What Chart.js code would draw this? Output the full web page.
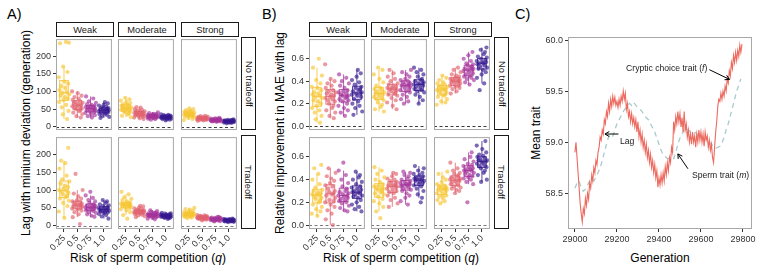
<!DOCTYPE html>
<html><head><meta charset="utf-8">
<script src="https://cdn.jsdelivr.net/npm/chart.js@4"></script>
<style>
body{margin:0;width:760px;height:274px;background:#fff;position:relative;overflow:hidden;font-family:"Liberation Sans",Arial,sans-serif;}
canvas{position:absolute}
.strip{position:absolute;box-sizing:border-box;border:1px solid #1a1a1a;background:#fff;font-size:9.3px;color:#1a1a1a;display:flex;align-items:center;justify-content:center;white-space:nowrap}
.strip.v span{transform:rotate(90deg);display:block}
.lbl{position:absolute;font-size:14.5px;line-height:15px;color:#000}
.xt{position:absolute;font-size:12px;line-height:14px;color:#000;white-space:nowrap;transform:translate(-50%,-50%)}
.yt{position:absolute;font-size:12px;line-height:14px;color:#000;white-space:nowrap;transform:translate(-50%,-50%) rotate(-90deg)}
</style></head><body>
<div class="lbl" style="left:7px;top:7px">A)</div>
<div class="lbl" style="left:262px;top:7px">B)</div>
<div class="lbl" style="left:515px;top:7px">C)</div>
<div class="yt" style="left:26px;top:133px">Lag with minium deviation (generation)</div>
<div class="yt" style="left:280px;top:133px">Relative improvement in MAE with lag</div>
<div class="yt" style="left:536px;top:133px">Mean trait</div>
<div class="xt" style="left:148px;top:258px">Risk of sperm competition (<i>q</i>)</div>
<div class="xt" style="left:401px;top:258px">Risk of sperm competition (<i>q</i>)</div>
<div class="xt" style="left:660px;top:258px">Generation</div>
<script>
// ---------- categories / labels ----------
const qLabels = ['0.25','0.5','0.75','1.0'];
const strengthLabels = ['Weak','Moderate','Strong'];
const tradeoffLabels = ['No tradeoff','Tradeoff'];
const qColors = ['#F6C431','#E0626E','#A5339A','#35198F'];
const lagTicks = [0,50,100,150,200];
const maeTicks = [0,0.2,0.4,0.6];
const genTicks = [29000,29200,29400,29600,29800];
const traitTicks = [58.5,59.0,59.5,60.0];

// ---------- A) Lag with minimum deviation (generation) ----------
const lagNoTradeoffWeak = [
 [240,236,238,170,155,140,128,122,115,110,104,98,95,92,88,84,80,76,70,62,55,45,35,22],
 [100,95,88,84,80,76,73,70,68,66,64,62,60,58,56,54,52,50,47,44,40,36,30,26],
 [86,80,72,68,64,62,60,58,56,55,54,52,51,50,48,46,45,43,41,39,36,33,30,26],
 [70,66,62,60,57,55,53,52,50,49,48,47,46,45,44,42,41,40,38,36,34,31,28,25]];
const lagNoTradeoffModerate = [
 [82,78,74,70,67,64,62,60,58,56,55,54,52,51,50,48,46,45,43,41,38,35,31,27],
 [56,54,50,48,46,44,43,42,41,40,39,38,37,36,35,34,33,32,31,30,28,26,24,22],
 [41,39,37,36,35,34,33,32,32,31,31,30,30,29,29,28,28,27,26,25,24,23,22,20],
 [35,34,33,32,31,30,30,29,29,28,28,27,27,26,26,25,25,24,24,23,22,21,20,18]];
const lagNoTradeoffStrong = [
 [52,50,47,45,43,42,41,40,39,38,37,36,35,35,34,33,32,31,30,29,27,25,22,19],
 [31,30,29,28,27,27,26,26,25,25,24,24,24,23,23,22,22,21,21,20,20,19,18,17],
 [25,24,23,23,22,22,21,21,20,20,20,19,19,19,18,18,18,17,17,16,16,15,15,14],
 [21,20,19,19,18,18,17,17,17,16,16,16,15,15,15,14,14,14,13,13,12,12,11,10]];
const lagTradeoffWeak = [
 [218,182,175,160,140,130,124,118,112,108,104,100,98,95,92,88,85,80,76,70,64,55,40,22],
 [145,100,90,82,76,72,68,66,64,62,60,58,57,55,54,52,50,48,45,42,38,32,24,5],
 [95,85,78,72,68,64,60,58,56,55,53,52,51,50,49,47,45,43,41,38,36,32,28,25],
 [72,68,64,60,57,55,53,51,50,48,47,46,45,44,43,42,40,39,37,35,33,30,26,20]];
const lagTradeoffModerate = [
 [95,88,80,75,72,68,65,63,62,61,60,59,58,57,56,55,53,51,49,46,43,38,30,20],
 [56,54,51,49,47,45,44,43,42,41,40,40,39,38,38,37,36,35,34,33,31,29,27,24],
 [43,41,39,37,36,35,34,33,32,31,31,30,30,29,29,28,27,27,26,25,24,22,20,18],
 [36,35,34,33,32,31,30,30,29,29,28,28,27,27,26,26,25,25,24,24,23,22,21,19]];
const lagTradeoffStrong = [
 [50,47,45,42,40,38,37,36,35,34,33,33,32,32,31,30,30,29,28,27,26,25,23,21],
 [30,29,28,27,27,26,25,25,24,24,23,23,23,22,22,21,21,20,20,19,19,18,17,15],
 [25,24,23,22,22,21,21,20,20,19,19,19,18,18,18,17,17,17,16,16,15,14,13,12],
 [20,19,19,18,18,17,17,16,16,16,15,15,15,15,14,14,14,13,13,13,12,12,11,10]];

// ---------- B) Relative improvement in MAE with lag ----------
const maeNoTradeoffWeak = [
 [0.60,0.52,0.45,0.41,0.38,0.35,0.34,0.32,0.30,0.29,0.28,0.27,0.26,0.25,0.23,0.22,0.20,0.18,0.16,0.14,0.12,0.09,0.06,0.03],
 [0.55,0.42,0.40,0.38,0.36,0.34,0.32,0.31,0.30,0.29,0.28,0.27,0.26,0.25,0.24,0.23,0.22,0.20,0.18,0.16,0.14,0.12,0.09,0.07],
 [0.46,0.43,0.40,0.38,0.36,0.34,0.32,0.31,0.30,0.29,0.28,0.27,0.27,0.26,0.25,0.24,0.23,0.22,0.20,0.18,0.16,0.14,0.12,0.09],
 [0.50,0.47,0.44,0.41,0.39,0.37,0.35,0.34,0.33,0.32,0.31,0.30,0.29,0.29,0.28,0.27,0.26,0.24,0.22,0.20,0.18,0.16,0.13,0.10]];
const maeNoTradeoffModerate = [
 [0.52,0.50,0.46,0.42,0.39,0.36,0.34,0.33,0.32,0.31,0.30,0.29,0.29,0.28,0.27,0.26,0.25,0.24,0.23,0.21,0.19,0.17,0.15,0.13],
 [0.50,0.47,0.44,0.42,0.40,0.38,0.37,0.36,0.35,0.34,0.34,0.33,0.33,0.32,0.31,0.30,0.29,0.28,0.27,0.25,0.23,0.21,0.18,0.15],
 [0.50,0.48,0.46,0.44,0.42,0.41,0.40,0.39,0.38,0.37,0.37,0.36,0.36,0.35,0.34,0.33,0.32,0.31,0.30,0.28,0.26,0.24,0.22,0.20],
 [0.52,0.50,0.48,0.46,0.44,0.42,0.41,0.40,0.39,0.38,0.38,0.37,0.37,0.36,0.35,0.34,0.33,0.32,0.31,0.30,0.28,0.26,0.23,0.20]];
const maeNoTradeoffStrong = [
 [0.45,0.43,0.41,0.39,0.38,0.37,0.36,0.35,0.34,0.34,0.33,0.33,0.32,0.32,0.31,0.30,0.29,0.28,0.27,0.26,0.24,0.22,0.21,0.19],
 [0.52,0.50,0.48,0.46,0.45,0.44,0.43,0.42,0.42,0.41,0.41,0.40,0.40,0.39,0.39,0.38,0.37,0.36,0.36,0.35,0.34,0.33,0.31,0.29],
 [0.66,0.63,0.60,0.58,0.56,0.55,0.54,0.53,0.52,0.51,0.51,0.50,0.50,0.49,0.48,0.47,0.46,0.45,0.44,0.43,0.42,0.41,0.39,0.37],
 [0.70,0.68,0.66,0.64,0.62,0.61,0.60,0.59,0.58,0.57,0.57,0.56,0.56,0.55,0.54,0.53,0.52,0.51,0.50,0.48,0.46,0.43,0.38,0.32]];
const maeTradeoffWeak = [
 [0.53,0.50,0.45,0.40,0.36,0.33,0.31,0.30,0.29,0.28,0.27,0.27,0.26,0.25,0.24,0.23,0.22,0.20,0.18,0.16,0.14,0.12,0.10,0.08],
 [0.50,0.46,0.43,0.41,0.39,0.37,0.35,0.34,0.32,0.30,0.29,0.28,0.27,0.26,0.24,0.22,0.21,0.20,0.18,0.16,0.13,0.10,0.05,0.00],
 [0.55,0.48,0.44,0.40,0.37,0.34,0.32,0.30,0.29,0.28,0.27,0.26,0.26,0.25,0.24,0.23,0.22,0.21,0.20,0.19,0.17,0.15,0.13,0.12],
 [0.47,0.44,0.42,0.40,0.38,0.36,0.34,0.33,0.32,0.31,0.30,0.29,0.29,0.28,0.27,0.26,0.25,0.24,0.22,0.20,0.18,0.16,0.14,0.12]];
const maeTradeoffModerate = [
 [0.51,0.48,0.45,0.42,0.40,0.38,0.36,0.35,0.34,0.33,0.33,0.32,0.31,0.30,0.29,0.28,0.27,0.25,0.23,0.21,0.19,0.16,0.12,0.06],
 [0.46,0.45,0.43,0.41,0.40,0.39,0.38,0.37,0.36,0.35,0.35,0.34,0.34,0.33,0.32,0.31,0.30,0.29,0.28,0.26,0.24,0.22,0.19,0.16],
 [0.47,0.46,0.44,0.43,0.41,0.40,0.39,0.38,0.37,0.37,0.36,0.36,0.35,0.35,0.34,0.33,0.32,0.31,0.30,0.28,0.26,0.24,0.21,0.18],
 [0.52,0.50,0.48,0.46,0.45,0.44,0.43,0.42,0.41,0.41,0.40,0.40,0.39,0.39,0.38,0.37,0.36,0.35,0.34,0.32,0.30,0.27,0.24,0.20]];
const maeTradeoffStrong = [
 [0.47,0.45,0.42,0.40,0.38,0.36,0.35,0.34,0.33,0.33,0.32,0.32,0.31,0.31,0.30,0.29,0.28,0.27,0.26,0.25,0.24,0.22,0.21,0.19],
 [0.55,0.50,0.48,0.46,0.45,0.44,0.43,0.42,0.41,0.41,0.40,0.40,0.39,0.39,0.38,0.37,0.36,0.35,0.34,0.33,0.32,0.31,0.30,0.28],
 [0.64,0.60,0.58,0.56,0.54,0.53,0.52,0.51,0.50,0.49,0.49,0.48,0.48,0.47,0.46,0.45,0.44,0.43,0.42,0.41,0.40,0.38,0.36,0.20],
 [0.74,0.70,0.67,0.64,0.62,0.61,0.60,0.59,0.58,0.57,0.57,0.56,0.56,0.55,0.54,0.53,0.52,0.51,0.50,0.48,0.46,0.44,0.40,0.38]];

// ---------- C) Mean trait over generations ----------
const generationsF = [
 29000,29005,29010,29015,29020,29025,29030,29035,29040,29045,
 29050,29055,29060,29065,29070,29075,29080,29085,29090,29095,
 29100,29105,29110,29115,29120,29125,29130,29135,29140,29145,
 29150,29155,29160,29165,29170,29175,29180,29185,29190,29195,
 29200,29205,29210,29215,29220,29225,29230,29235,29240,29245,
 29250,29255,29260,29265,29270,29275,29280,29285,29290,29295,
 29300,29305,29310,29315,29320,29325,29330,29335,29340,29345,
 29350,29355,29360,29365,29370,29375,29380,29385,29390,29395,
 29400,29405,29410,29415,29420,29425,29430,29435,29440,29445,
 29450,29455,29460,29465,29470,29475,29480,29485,29490,29495,
 29500,29505,29510,29515,29520,29525,29530,29535,29540,29545,
 29550,29555,29560,29565,29570,29575,29580,29585,29590,29595,
 29600,29605,29610,29615,29620,29625,29630,29635,29640,29645,
 29650,29655,29660,29665,29670,29675,29680,29685,29690,29695,
 29700,29705,29710,29715,29720,29725,29730,29735,29740,29745,
 29750,29755,29760,29765,29770,29775,29780,29785,29790,29795];
const crypticChoiceTrait = [
 58.90,59.00,58.85,58.70,58.55,58.40,58.30,58.22,58.35,58.30,
 58.45,58.38,58.50,58.44,58.60,58.55,58.68,58.62,58.75,58.70,
 58.82,58.78,58.90,58.95,59.05,59.02,59.12,59.08,59.22,59.18,
 59.30,59.25,59.38,59.30,59.42,59.35,59.45,59.38,59.44,59.36,
 59.40,59.34,59.42,59.36,59.45,59.40,59.50,59.42,59.48,59.32,
 59.38,59.25,59.30,59.20,59.28,59.18,59.24,59.15,59.22,59.10,
 59.20,59.05,59.12,59.00,59.08,58.95,59.02,58.90,58.98,58.85,
 58.92,58.80,58.88,58.75,58.82,58.70,58.78,58.65,58.72,58.56,
 58.65,58.58,58.68,58.60,58.70,58.62,58.76,58.68,58.80,58.72,
 58.85,58.80,58.95,58.90,59.20,59.12,59.25,59.18,59.30,59.20,
 59.28,59.15,59.24,59.10,59.30,59.12,59.18,59.05,59.12,59.00,
 59.08,58.98,59.10,59.00,59.06,58.95,59.08,59.00,59.12,59.02,
 59.10,59.00,59.08,58.96,59.10,59.02,59.06,58.95,59.02,58.92,
 58.98,58.85,58.80,58.95,59.10,59.20,59.35,59.42,59.40,59.48,
 59.42,59.50,59.45,59.55,59.50,59.62,59.58,59.70,59.65,59.78,
 59.72,59.85,59.78,59.88,59.80,59.90,59.84,59.95,59.88,59.96];
const generationsM = [
 29000,29010,29020,29030,29040,29050,29060,29070,29080,29090,
 29100,29110,29120,29130,29140,29150,29160,29170,29180,29190,
 29200,29210,29220,29230,29240,29250,29260,29270,29280,29290,
 29300,29310,29320,29330,29340,29350,29360,29370,29380,29390,
 29400,29410,29420,29430,29440,29450,29460,29470,29480,29490,
 29500,29510,29520,29530,29540,29550,29560,29570,29580,29590,
 29600,29610,29620,29630,29640,29650,29660,29670,29680,29690,
 29700,29710,29720,29730,29740,29750,29760,29770,29780,29790];
const spermTrait = [
 58.55,58.60,58.62,58.55,58.52,58.54,58.58,58.62,58.64,58.62,
 58.66,58.70,58.75,58.82,58.90,58.98,59.05,59.08,59.06,59.12,
 59.18,59.22,59.26,59.30,59.33,59.36,59.38,59.36,59.39,59.36,
 59.34,59.32,59.30,59.26,59.24,59.22,59.18,59.14,59.10,59.04,
 58.98,58.92,58.88,58.86,58.84,58.84,58.85,58.84,58.90,58.98,
 59.04,59.08,59.12,59.14,59.12,59.10,59.09,59.10,59.08,59.06,
 59.05,59.04,59.03,59.02,59.00,58.98,58.96,58.94,58.95,58.96,
 58.99,59.05,59.12,59.18,59.26,59.34,59.42,59.50,59.56,59.62];

// ---------- layout / styling helpers ----------
const FONT = '"Liberation Sans", Arial, sans-serif';
const JIT = [0.14,-0.3,0.37,-0.06,0.26,-0.39,0.03,0.32,-0.21,0.1,-0.34,0.2,-0.13,0.4,-0.26,0.07,0.29,-0.02,-0.37,0.17,-0.17,0.34,-0.09,0.23];
function hexA(h,a){const n=parseInt(h.slice(1),16);return `rgba(${n>>16&255},${n>>8&255},${n&255},${a})`;}
function quant(s,p){const h=(s.length-1)*p,lo=Math.floor(h),hi=Math.min(lo+1,s.length-1);return s[lo]+(h-lo)*(s[hi]-s[lo]);}
function makeCanvas(l,t,w,h){const c=document.createElement('canvas');c.width=w;c.height=h;c.style.left=l+'px';c.style.top=t+'px';c.style.width=w+'px';c.style.height=h+'px';document.body.appendChild(c);return c;}
function addStrip(l,t,w,h,txt,vert){const d=document.createElement('div');d.className='strip'+(vert?' v':'');d.style.left=l+'px';d.style.top=t+'px';d.style.width=w+'px';d.style.height=h+'px';const s=document.createElement('span');s.textContent=txt;d.appendChild(s);document.body.appendChild(d);}

function facetPlugin(groups,r){
 return {id:'facet',
  beforeDatasetsDraw(chart){
   const {ctx,chartArea:a,scales:{x,y}}=chart;
   ctx.save();
   const y0=Math.round(y.getPixelForValue(0))+0.5;
   ctx.strokeStyle=r===0?'#3a3a3a':'#7a7a7a';ctx.lineWidth=1;ctx.setLineDash([3,2.5]);
   ctx.beginPath();ctx.moveTo(a.left,y0);ctx.lineTo(a.right,y0);ctx.stroke();ctx.setLineDash([]);
   groups.forEach((vals,i)=>{
    const s=[...vals].sort((p,q)=>p-q);
    const q1=quant(s,.25),md=quant(s,.5),q3=quant(s,.75),iq=q3-q1;
    const lo=Math.min(...s.filter(v=>v>=q1-1.5*iq)),hi=Math.max(...s.filter(v=>v<=q3+1.5*iq));
    const cx=x.getPixelForValue(i+1),hw=x.getPixelForValue(i+1.33)-cx;
    const Y=v=>y.getPixelForValue(v);
    ctx.strokeStyle=hexA(qColors[i],0.8);ctx.fillStyle=hexA(qColors[i],0.18);ctx.lineWidth=1;
    ctx.beginPath();ctx.moveTo(cx,Y(hi));ctx.lineTo(cx,Y(q3));ctx.moveTo(cx,Y(q1));ctx.lineTo(cx,Y(lo));ctx.stroke();
    ctx.fillRect(cx-hw,Y(q3),2*hw,Y(q1)-Y(q3));
    ctx.strokeRect(cx-hw,Y(q3),2*hw,Y(q1)-Y(q3));
    ctx.beginPath();ctx.moveTo(cx-hw,Y(md));ctx.lineTo(cx+hw,Y(md));ctx.stroke();
   });
   ctx.restore();
  },
  afterDatasetsDraw(chart){
   const {ctx,chartArea:a}=chart;ctx.save();ctx.strokeStyle='#a8a8a8';ctx.lineWidth=1;
   ctx.strokeRect(a.left+0.5,a.top+0.5,a.right-a.left-1,a.bottom-a.top-1);ctx.restore();
  }};
}

const tickFont={size:9,family:FONT};
const panels=[
 {data:[[lagNoTradeoffWeak,lagNoTradeoffModerate,lagNoTradeoffStrong],[lagTradeoffWeak,lagTradeoffModerate,lagTradeoffStrong]],
  cols:[56,118,181],yMin:-9,yMax:248,ticks:lagTicks,fmt:v=>String(v)},
 {data:[[maeNoTradeoffWeak,maeNoTradeoffModerate,maeNoTradeoffStrong],[maeTradeoffWeak,maeTradeoffModerate,maeTradeoffStrong]],
  cols:[309,371,434],yMin:-0.035,yMax:0.775,ticks:maeTicks,fmt:v=>v.toFixed(1)}
];
const FW=58,rowsT=[37,135],rowsH=[93,94],EXT=26,XH=34,BOT=5;

panels.forEach(P=>{
 P.cols.forEach((L,c)=>addStrip(L,22,FW,15,strengthLabels[c],false));
 rowsT.forEach((T,r)=>addStrip(P.cols[2]+FW+2,T,15,rowsH[r],tradeoffLabels[r],true));
 P.data.forEach((row,r)=>{
  row.forEach((groups,c)=>{
   const L=P.cols[c],T=rowsT[r],H=rowsH[r];
   const cv=makeCanvas(L-EXT,T,FW+EXT,H+(r===1?XH:BOT));
   const datasets=groups.map((vals,i)=>({
     data:vals.map((v,j)=>({x:i+1+JIT[(j+i*5+c*3+r*7)%JIT.length],y:v})),
     backgroundColor:hexA(qColors[i],0.65),borderWidth:0,pointRadius:2.1,pointHoverRadius:2.1}));
   new Chart(cv,{type:'scatter',data:{datasets},
    options:{responsive:false,animation:false,devicePixelRatio:1,events:[],
     layout:{padding:{left:c===0?0:EXT,right:0,top:0,bottom:r===1?0:BOT}},
     plugins:{legend:{display:false},tooltip:{enabled:false}},
     scales:{
      x:{type:'linear',min:0.4,max:4.6,display:r===1,
        afterBuildTicks:s=>{s.ticks=[1,2,3,4].map(v=>({value:v}));},
        afterFit:s=>{s.height=r===1?XH:0;s.paddingLeft=0;s.paddingRight=0;},
        ticks:{callback:(v,i)=>qLabels[i],minRotation:45,maxRotation:45,autoSkip:false,font:tickFont,color:'#333',padding:1},
        grid:{drawOnChartArea:false,tickLength:3,color:'#333'},border:{display:false}},
      y:{type:'linear',min:P.yMin,max:P.yMax,display:c===0,
        afterBuildTicks:s=>{s.ticks=P.ticks.map(v=>({value:v}));},
        afterFit:s=>{s.width=c===0?EXT:0;s.paddingTop=0;s.paddingBottom=0;},
        ticks:{callback:v=>P.fmt(v),font:tickFont,color:'#333',padding:2},
        grid:{drawOnChartArea:false,tickLength:3,color:'#333'},border:{display:false}}
     }},
    plugins:[facetPlugin(groups,r)]});
  });
 });
});

// ---------- panel C ----------
function arrow(ctx,[x1,y1],[x2,y2]){
 const ang=Math.atan2(y2-y1,x2-x1),L=5,A=Math.PI/6;
 ctx.beginPath();ctx.moveTo(x1,y1);ctx.lineTo(x2,y2);
 ctx.moveTo(x2-L*Math.cos(ang-A),y2-L*Math.sin(ang-A));ctx.lineTo(x2,y2);
 ctx.lineTo(x2-L*Math.cos(ang+A),y2-L*Math.sin(ang+A));ctx.stroke();
}
function richText(ctx,parts,x,y,align){
 const f='8.6px '+FONT,fi='italic 8.6px '+FONT;
 let w=0;parts.forEach(p=>{ctx.font=p[1]?fi:f;w+=ctx.measureText(p[0]).width;});
 let cx=align==='right'?x-w:x;ctx.textAlign='left';ctx.textBaseline='middle';
 parts.forEach(p=>{ctx.font=p[1]?fi:f;ctx.fillText(p[0],cx,y);cx+=ctx.measureText(p[0]).width;});
}
const annotPlugin={id:'annot',
 afterDatasetsDraw(chart){
  const {ctx,chartArea:a,scales:{x,y}}=chart;const P=(g,v)=>[x.getPixelForValue(g),y.getPixelForValue(v)];
  ctx.save();ctx.strokeStyle='#000';ctx.fillStyle='#1a1a1a';ctx.lineWidth=1;
  arrow(ctx,P(29640,59.71),P(29736,59.615));
  arrow(ctx,P(29207,59.08),P(29143,59.08));
  arrow(ctx,P(29538,58.74),P(29490,58.885));
  let [tx,ty]=P(29630,59.72);richText(ctx,[['Cryptic choice trait ('],['f',1],[')']],tx,ty,'right');
  [tx,ty]=P(29214,59.01);richText(ctx,[['Lag']],tx,ty,'left');
  [tx,ty]=P(29557,58.67);richText(ctx,[['Sperm trait ('],['m',1],[')']],tx,ty,'left');
  ctx.strokeStyle='#a8a8a8';ctx.strokeRect(a.left+0.5,a.top+0.5,a.right-a.left-1,a.bottom-a.top-1);
  ctx.restore();
 }};
const cvC=makeCanvas(540,30,220,215);
new Chart(cvC,{type:'line',
 data:{datasets:[
  {label:'Cryptic choice trait (f)',data:generationsF.map((g,i)=>({x:g,y:crypticChoiceTrait[i]})),borderColor:'#EC6A5F',borderWidth:1.1,pointRadius:0,tension:0},
  {label:'Sperm trait (m)',data:generationsM.map((g,i)=>({x:g,y:spermTrait[i]})),borderColor:'#A9CBCE',borderWidth:1.3,borderDash:[5,4],pointRadius:0,tension:0}
 ]},
 options:{responsive:false,animation:false,devicePixelRatio:1,events:[],
  layout:{padding:{left:0,right:8,top:7,bottom:0}},
  plugins:{legend:{display:false},tooltip:{enabled:false}},
  scales:{
   x:{type:'linear',min:28967,max:29843,
     afterBuildTicks:s=>{s.ticks=genTicks.map(v=>({value:v}));},
     afterFit:s=>{s.height=16;s.paddingLeft=0;s.paddingRight=0;},
     ticks:{callback:v=>String(v),maxRotation:0,autoSkip:false,font:tickFont,color:'#333',padding:2},
     grid:{drawOnChartArea:false,tickLength:3,color:'#333'},border:{display:false}},
   y:{type:'linear',min:58.15,max:60.03,
     afterBuildTicks:s=>{s.ticks=traitTicks.map(v=>({value:v}));},
     afterFit:s=>{s.width=28;s.paddingTop=0;s.paddingBottom=0;},
     ticks:{callback:v=>v.toFixed(1),font:tickFont,color:'#333',padding:2},
     grid:{drawOnChartArea:false,tickLength:3,color:'#333'},border:{display:false}}
  }},
 plugins:[annotPlugin]});
</script>
</body></html>
